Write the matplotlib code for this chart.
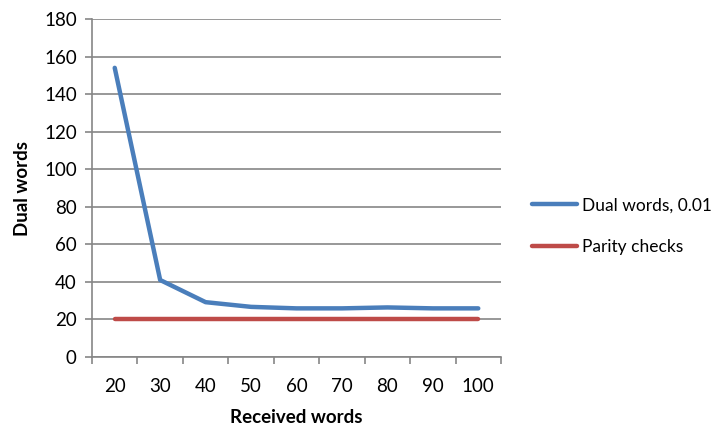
import matplotlib.pyplot as plt
import numpy as np

plt.rcParams['font.family'] = ['Lato', 'DejaVu Sans']

received = [20, 30, 40, 50, 60, 70, 80, 90, 100]
dual_words = [154, 41, 29.2, 26.7, 25.9, 25.9, 26.4, 25.9, 25.9]
parity_checks = [20, 20, 20, 20, 20, 20, 20, 20, 20]

grey = '#868686'

fig = plt.figure(figsize=(7.28, 4.25), dpi=100)
ax = fig.add_axes([92 / 728, 68 / 425, 409 / 728, 338 / 425])

x = np.arange(len(received))
ax.plot(x, dual_words, color='#4a7ebb', lw=3.2, solid_capstyle='round',
        label='Dual words, 0.01')
ax.plot(x, parity_checks, color='#be4b48', lw=3.2, solid_capstyle='round',
        label='Parity checks')

ax.set_xlim(-0.5, len(received) - 0.5)
ax.set_ylim(0, 180)
ax.set_yticks(range(0, 181, 20))
ax.yaxis.grid(True, color=grey, lw=1.2)
ax.set_axisbelow(True)

# category axis: ticks sit between categories, labels at centres
ax.set_xticks(np.arange(-0.5, len(received)), minor=False)
ax.set_xticklabels([])
ax.set_xticks(x, minor=True)
ax.set_xticklabels([str(r) for r in received], minor=True)
ax.tick_params(axis='x', which='minor', length=0, pad=15)
ax.tick_params(axis='x', which='major', length=5, color=grey, width=1.2)
ax.tick_params(axis='y', length=5, color=grey, width=1.2, pad=6)
ax.tick_params(which='both', labelsize=13.5)

for side in ('top', 'right'):
    ax.spines[side].set_visible(False)
for side in ('left', 'bottom'):
    ax.spines[side].set_color(grey)
    ax.spines[side].set_linewidth(1.2)

ax.set_xlabel('Received words', fontsize=13.5, fontweight='bold', labelpad=10)
ax.set_ylabel('Dual words', fontsize=13.5, fontweight='bold', labelpad=9)

fig.legend(loc='center left', bbox_to_anchor=(532 / 728, 1 - 226 / 425),
           frameon=False, fontsize=12.5, handlelength=2.6, handletextpad=0.3,
           labelspacing=1.45, borderpad=0, borderaxespad=0)

fig.savefig('out.png', dpi=100)
